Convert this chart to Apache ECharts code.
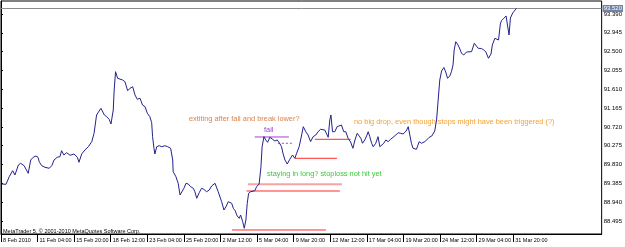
<!DOCTYPE html>
<html>
<head>
<meta charset="utf-8">
<script src="https://cdn.jsdelivr.net/npm/echarts@6/dist/echarts.min.js"></script>
<style>
  html, body { margin: 0; padding: 0; background: #fff; }
  #main { width: 625px; height: 247px; }
</style>
</head>
<body>
<div id="main"></div>
<script>
// USDJPY H4, Feb-Mar 2010 (x = bar index, 16 bars between time labels)
var priceBars = [0.3, 2.2, 3.6, 5.1, 6.1, 7.6, 8.6, 10.1, 10.9, 11.9, 13.0, 14.1, 15.3, 16.2, 16.7, 17.8, 19.2, 21.1, 22.2, 23.2,
  24.6, 25.8, 26.5, 27.5, 28.7, 30.2, 31.9, 33.4, 34.1, 35.3, 36.7, 38.2, 39.7, 40.7, 41.8, 42.5, 43.7, 44.3, 45.2, 46.2,
  47.3, 48.1, 49.1, 49.5, 50.1, 51.0, 51.7, 53.2, 54.2, 55.4, 56.4, 57.6, 58.6, 59.6, 60.8, 61.9, 63.0, 64.0, 65.1, 65.9,
  66.3, 66.9, 67.3, 68.1, 69.2, 70.3, 71.7, 72.9, 73.6, 74.2, 75.1, 75.3, 76.5, 77.5, 78.3, 79.0, 80.0, 80.9, 81.9, 82.9,
  84.1, 84.8, 85.6, 86.7, 87.7, 88.7, 89.9, 91.1, 92.1, 93.6, 94.3, 95.0, 95.7, 96.5, 97.5, 98.4, 99.4, 100.1, 100.9, 101.6,
  102.4, 103.3, 104.2, 104.8, 105.7, 106.4, 107.1, 107.7, 108.3, 109.2, 110.0, 111.0, 111.8, 112.9, 113.7, 114.2, 115.0, 115.8, 116.6, 117.6,
  118.8, 119.8, 120.8, 121.7, 122.7, 123.4, 124.2, 125.2, 126.3, 127.5, 128.5, 129.3, 130.4, 131.5, 132.2, 133.3, 134.3, 135.4, 136.5, 137.7,
  138.7, 139.8, 141.6, 142.4, 143.1, 143.8, 144.3, 145.0, 146.0, 147.0, 148.9, 149.9, 150.8, 151.8, 152.9, 153.9, 154.8, 155.8, 156.6, 157.4,
  158.1, 159.1, 159.9, 160.6, 161.3, 162.1, 162.8, 163.9, 164.9, 165.7, 166.4, 167.4, 168.3, 169.3, 170.4, 171.5, 172.7, 173.7, 174.7, 175.9,
  177.2, 178.1, 179.5, 180.2, 181.7, 182.9, 183.9, 185.4, 187.2, 188.4, 189.7, 190.5, 191.2, 191.9, 192.7, 193.7, 194.5, 195.3, 196.3, 197.0,
  197.7, 198.2, 198.9, 199.9, 200.7, 201.4, 202.4, 203.6, 205.8, 207.0, 207.6, 208.7, 210.1, 211.1, 212.0, 213.2, 214.3, 214.9, 216.0, 216.7,
  217.6, 218.4, 218.9, 219.9, 220.9, 222.2, 222.8, 223.8, 224.4, 225.4];
var prices = [89.370, 89.363, 89.543, 89.685, 89.583, 89.820, 89.860, 89.803, 89.779, 89.623, 89.938, 90.002, 90.032, 90.002, 89.898, 89.803, 89.765, 89.742, 89.803, 89.938,
  90.002, 90.016, 90.158, 90.056, 90.110, 90.049, 90.080, 90.002, 89.883, 90.080, 90.174, 90.252, 90.371, 90.569, 91.002, 91.042, 91.160, 91.174, 91.002, 90.962,
  90.900, 90.789, 91.120, 91.593, 92.026, 91.870, 91.907, 91.829, 91.789, 91.576, 91.633, 91.671, 91.475, 91.373, 91.397, 91.238, 91.198, 91.042, 90.962, 90.820,
  90.489, 90.214, 90.080, 90.252, 90.276, 90.252, 90.276, 90.252, 90.252, 90.214, 89.938, 89.661, 89.543, 89.387, 89.110, 89.110, 89.269, 89.387, 89.370, 89.307,
  89.269, 89.188, 89.032, 89.165, 89.269, 89.245, 89.188, 89.228, 89.323, 89.387, 89.387, 89.188, 89.165, 88.952, 88.756, 88.834, 88.952, 88.992, 88.914, 88.796,
  88.739, 88.614, 88.559, 88.637, 88.479, 88.323, 88.519, 88.914, 89.150, 89.188, 89.228, 89.212, 89.307, 89.370, 89.779, 90.252, 90.489, 90.411, 90.356, 90.475,
  90.427, 90.387, 90.411, 90.347, 90.252, 90.080, 89.938, 89.843, 89.954, 90.056, 89.978, 90.096, 90.252, 90.529, 90.725, 90.607, 90.529, 90.371, 90.489, 90.529,
  90.607, 90.664, 90.647, 90.664, 90.475, 90.884, 91.002, 90.607, 90.607, 90.725, 90.765, 90.607, 90.607, 90.451, 90.363, 90.214, 90.411, 90.569, 90.607, 90.451,
  90.333, 90.411, 90.505, 90.607, 90.489, 90.333, 90.252, 90.333, 90.489, 90.252, 90.214, 90.333, 90.411, 90.371, 90.427, 90.475, 90.529, 90.583, 90.569, 90.553,
  90.624, 90.725, 90.333, 90.214, 90.191, 90.371, 90.333, 90.371, 90.470, 90.505, 90.624, 90.884, 91.357, 91.829, 92.042, 92.125, 92.019, 91.870, 91.924, 92.026,
  92.184, 92.539, 92.735, 92.657, 92.562, 92.461, 92.421, 92.491, 92.499, 92.697, 92.657, 92.579, 92.574, 92.539, 92.499, 92.343, 92.444, 92.657, 92.815, 92.815,
  92.775, 93.154, 93.232, 93.288, 93.343, 92.893, 93.295, 93.414, 93.421, 93.520];

var lastPrice = 93.520;

var xTickBars = [0, 16, 32, 48, 64, 80, 96, 112, 128, 144, 160, 176, 192, 208, 224];
var xLabels = ['8 Feb 2010', '11 Feb 04:00', '15 Feb 20:00', '18 Feb 12:00', '23 Feb 04:00', '25 Feb 20:00', '2 Mar 12:00',
  '5 Mar 04:00', '9 Mar 20:00', '12 Mar 12:00', '17 Mar 04:00', '19 Mar 20:00', '24 Mar 12:00', '29 Mar 04:00', '31 Mar 20:00'];
var yTicks = [88.495, 88.940, 89.385, 89.830, 90.275, 90.720, 91.165, 91.610, 92.055, 92.500, 92.945, 93.390];

// hand drawn levels: price, first bar, last bar
var redLevels = [89.978, 90.427, 89.205, 88.283];
var redFrom = [128.5, 137.3, 107.4, 101.0];
var redTo = [146.9, 152.9, 148.2, 142.1];
var pinkLevel = [89.363, 108.0, 149.1];
var failLevel = [90.482, 111.0, 125.9];
var failDash = [90.333, 121.1, 127.2];

var font = '"Liberation Sans", Arial, sans-serif';

var chart = echarts.init(document.getElementById('main'));

function seg(level, from, to, color, width, type) {
  return {
    type: 'line', silent: true, symbol: 'none', animation: false,
    lineStyle: { color: color, width: width, type: type || 'solid' },
    data: [[from, level], [to, level]],
    z: 3
  };
}

var series = [{
  type: 'line',
  showSymbol: false,
  animation: false,
  data: priceBars.map(function (b, i) { return [b, prices[i]]; }),
  lineStyle: { color: '#23238c', width: 1 },
  z: 5,
  markLine: {
    silent: true,
    symbol: 'none',
    animation: false,
    lineStyle: { color: '#8a8a8a', width: 1, type: 'solid' },
    label: {
      position: 'end', distance: 1,
      formatter: lastPrice.toFixed(3),
      color: '#fff', backgroundColor: '#7082a6',
      fontSize: 6, fontFamily: font, padding: [1, 1, 0, 1]
    },
    data: [{ yAxis: lastPrice }]
  }
}];
for (var i = 0; i < redLevels.length; i++) {
  series.push(seg(redLevels[i], redFrom[i], redTo[i], '#ff2b2b', 1));
}
series.push(seg(pinkLevel[0], pinkLevel[1], pinkLevel[2], '#f6a3a3', 2));
series.push(seg(failLevel[0], failLevel[1], failLevel[2], '#a040cc', 1));
series.push(seg(failDash[0], failDash[1], failDash[2], '#a040cc', 1, [2, 2]));

var option = {
  backgroundColor: '#fff',
  animation: false,
  grid: { left: 1, right: 23, top: 1, bottom: 13, show: true, borderColor: '#000', borderWidth: 1 },
  xAxis: {
    type: 'value', min: 0, max: 262.7,
    axisLine: { show: true, lineStyle: { color: '#000' } },
    axisTick: { show: true, customValues: xTickBars, length: 8, lineStyle: { color: '#000' } },
    splitLine: { show: false },
    axisLabel: {
      customValues: xTickBars,
      formatter: function (v) { return xLabels[Math.round(v / 16)]; },
      align: 'left', margin: 3, padding: [0, 0, 0, 2],
      fontSize: 5.5, fontFamily: font, color: '#000'
    }
  },
  yAxis: {
    type: 'value', position: 'right', min: 88.188, max: 93.697, scale: true,
    axisLine: { show: true, lineStyle: { color: '#000' } },
    axisTick: { show: true, customValues: yTicks, length: 2, lineStyle: { color: '#000' } },
    splitLine: { show: false },
    axisLabel: {
      customValues: yTicks,
      formatter: function (v) { return v.toFixed(3); },
      margin: 2, fontSize: 6, fontFamily: font, color: '#000'
    }
  },
  graphic: [
    { type: 'text', x: 3, y: 231, style: { text: 'MetaTrader 5, \u00a9 2001-2010 MetaQuotes Software Corp.', fill: '#000', font: '5.5px ' + font, verticalAlign: 'middle' } },
    { type: 'text', x: 189, y: 119, style: { text: 'extiting after fail and break lower?', fill: '#d9834a', font: '7.4px ' + font, verticalAlign: 'middle' } },
    { type: 'text', x: 264, y: 130, style: { text: 'fail', fill: '#a040cc', font: '7.4px ' + font, verticalAlign: 'middle' } },
    { type: 'text', x: 267, y: 174, style: { text: 'staying in long? stoploss not hit yet', fill: '#3cc83c', font: '7.4px ' + font, verticalAlign: 'middle' } },
    { type: 'text', x: 354, y: 122, style: { text: 'no big drop, even though stops might have been triggered (?)', fill: '#f5a030', font: '7.4px ' + font, verticalAlign: 'middle' } }
  ],
  series: series
};

chart.setOption(option);
</script>
</body>
</html>
